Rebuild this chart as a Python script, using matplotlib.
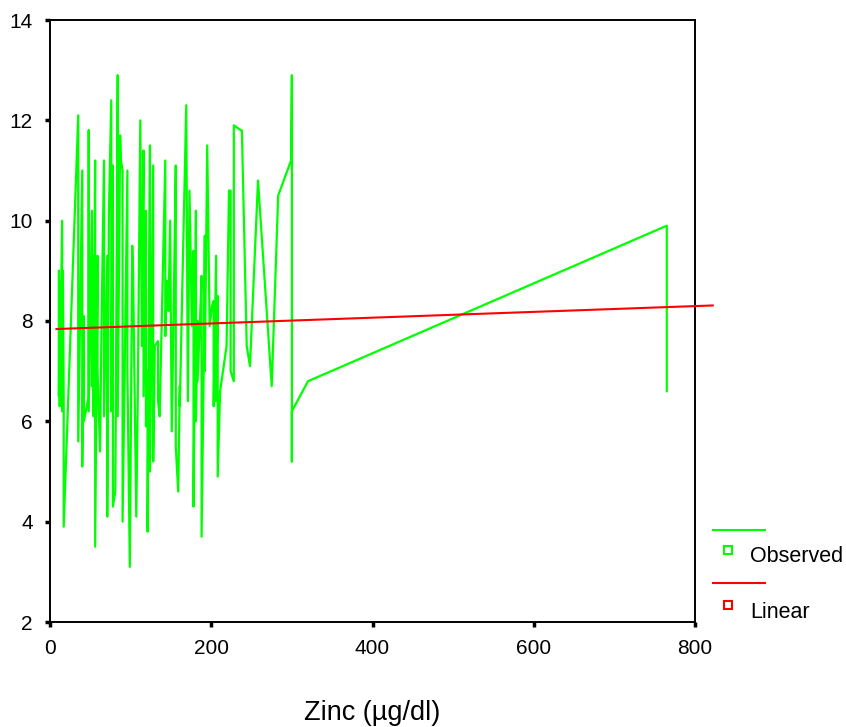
import numpy as np
import matplotlib
matplotlib.use("Agg")
import matplotlib.pyplot as plt
from matplotlib.lines import Line2D

plt.rcParams['font.family'] = ['Liberation Sans', 'DejaVu Sans']

# observed values (zinc, y), in the order SPSS joins them (sorted by zinc)
zinc = [11, 11, 12, 12, 15, 15, 16, 17, 17, 35, 35, 40, 40, 42, 42,
        48, 48, 48, 52, 52, 54, 54, 56, 56, 59, 59, 62, 64, 67, 67,
        71, 71, 73, 76, 76, 78, 78, 81, 84, 84, 87, 88, 90, 90, 96, 96,
        99, 102, 103, 107, 109, 112, 114, 116, 116, 119, 119, 121, 121,
        124, 124, 128, 128, 130, 134, 134, 136, 143, 143, 145, 147, 149,
        151, 154, 156, 156, 159, 161, 161, 164, 169, 171, 173, 176, 178,
        178, 181, 181, 183, 183, 186, 188, 188, 191, 192, 192, 195, 198,
        201, 203, 203, 206, 206, 208, 208, 211, 219, 222, 224, 224, 228,
        228, 237, 238, 244, 248, 258, 275, 283, 299, 300, 300, 300, 300,
        320, 765, 765]
observed = [9.0, 6.5, 8.8, 6.3, 10.0, 6.2, 9.0, 6.3, 3.9, 12.1, 5.6, 11.0, 5.1, 8.1, 6.0,
            6.5, 11.8, 6.2, 10.2, 6.7, 9.3, 6.1, 11.2, 3.5, 9.3, 7.0, 5.4, 8.0, 11.2, 6.1,
            9.3, 4.1, 10.1, 12.4, 6.2, 11.1, 4.3, 4.6, 12.9, 6.1, 11.7, 11.2, 11.0, 4.0, 11.0, 7.0,
            3.1, 9.5, 9.0, 4.1, 6.7, 12.0, 7.5, 11.4, 6.5, 10.2, 5.9, 7.0, 3.8,
            11.5, 5.0, 11.1, 5.2, 7.5, 7.6, 6.4, 6.1, 11.2, 7.7, 8.8, 8.2, 10.0,
            5.8, 8.9, 11.1, 5.5, 4.6, 6.7, 6.3, 8.6, 12.3, 6.4, 10.6, 7.9, 9.4,
            4.3, 10.2, 6.0, 8.0, 6.8, 8.0, 8.9, 3.7, 7.5, 9.7, 7.0, 11.5, 7.9,
            8.3, 8.4, 6.3, 9.3, 6.4, 8.5, 4.9, 6.6, 7.5, 10.6, 10.6, 7.0, 6.8,
            11.9, 11.8, 11.8, 7.5, 7.1, 10.8, 6.7, 10.5, 11.2, 12.9, 9.0, 5.2, 6.2,
            6.8, 9.9, 6.6]

# linear fit line, end points
fit_zinc = [8, 822]
fit_y = [7.84, 8.31]

x_ticks = [0, 200, 400, 600, 800]
y_ticks = [2, 4, 6, 8, 10, 12, 14]

green = '#00ff00'
red = '#ff0000'

fig = plt.figure(figsize=(8.46, 7.27), dpi=100)
ax = fig.add_axes([50 / 846, 105 / 727, 645 / 846, 602 / 727])

ax.plot(zinc, observed, color=green, lw=1.6, zorder=2)
ax.plot(fit_zinc, fit_y, color=red, lw=1.5, zorder=3, clip_on=False)

ax.set_xlim(0, 800)
ax.set_ylim(2, 14)
ax.set_xticks(x_ticks)
ax.set_yticks(y_ticks)
ax.tick_params(direction='out', length=3.5, width=2.5, labelsize=15, pad=9)
for s in ax.spines.values():
    s.set_linewidth(1.4)

ax.set_xlabel('Zinc (µg/dl)', fontsize=19.5, labelpad=30)

# legend drawn outside on the right, like SPSS
for yl, ym, yt, col, lab in [(530, 550, 557, green, 'Observed'),
                             (583, 605, 612, red, 'Linear')]:
    fig.add_artist(Line2D([713 / 846, 765 / 846], [1 - yl / 727, 1 - yl / 727],
                          color=col, lw=1.5, transform=fig.transFigure))
    fig.add_artist(Line2D([728 / 846], [1 - ym / 727], marker='s', ms=6,
                          mfc='none', mec=col, mew=1.5, ls='none',
                          transform=fig.transFigure))
    fig.text(750 / 846, 1 - yt / 727, lab, fontsize=15.5, va='center', ha='left')

fig.savefig('out.png', dpi=100)
